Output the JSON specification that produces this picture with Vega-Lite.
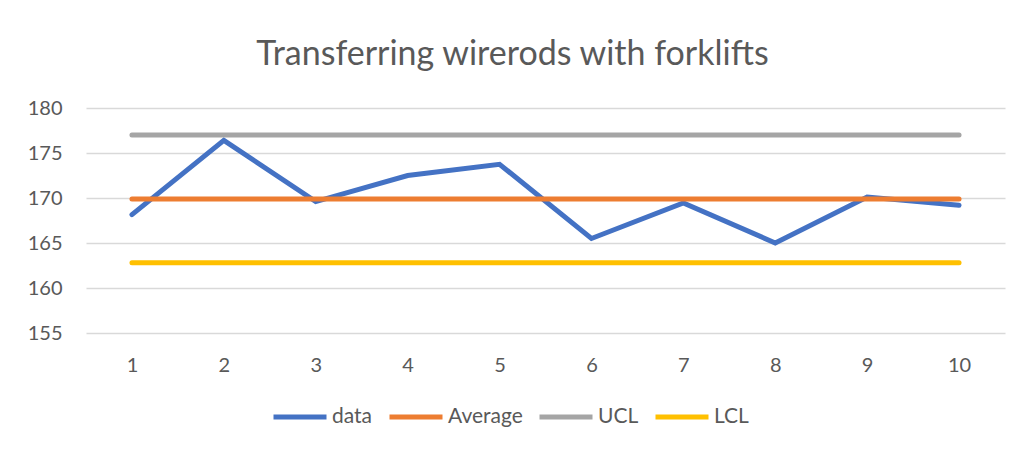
{
  "$schema": "https://vega.github.io/schema/vega-lite/v6.json",
  "width": 919,
  "height": 225,
  "autosize": {"type": "none"},
  "padding": {"left": 86, "top": 108, "right": 18, "bottom": 117},
  "background": "white",
  "title": {
    "text": "Transferring wirerods with forklifts",
    "font": "Lato",
    "fontSize": 34,
    "fontWeight": "normal",
    "color": "#595959",
    "anchor": "middle",
    "dx": -33,
    "offset": 26
  },
  "data": {
    "values": [
      {"x": 1, "series": "data", "value": 168.15},
      {"x": 2, "series": "data", "value": 176.4},
      {"x": 3, "series": "data", "value": 169.6},
      {"x": 4, "series": "data", "value": 172.5},
      {"x": 5, "series": "data", "value": 173.75},
      {"x": 6, "series": "data", "value": 165.5},
      {"x": 7, "series": "data", "value": 169.45},
      {"x": 8, "series": "data", "value": 165.0},
      {"x": 9, "series": "data", "value": 170.1},
      {"x": 10, "series": "data", "value": 169.2},
      {"x": 1, "series": "Average", "value": 169.9},
      {"x": 2, "series": "Average", "value": 169.9},
      {"x": 3, "series": "Average", "value": 169.9},
      {"x": 4, "series": "Average", "value": 169.9},
      {"x": 5, "series": "Average", "value": 169.9},
      {"x": 6, "series": "Average", "value": 169.9},
      {"x": 7, "series": "Average", "value": 169.9},
      {"x": 8, "series": "Average", "value": 169.9},
      {"x": 9, "series": "Average", "value": 169.9},
      {"x": 10, "series": "Average", "value": 169.9},
      {"x": 1, "series": "UCL", "value": 177.0},
      {"x": 2, "series": "UCL", "value": 177.0},
      {"x": 3, "series": "UCL", "value": 177.0},
      {"x": 4, "series": "UCL", "value": 177.0},
      {"x": 5, "series": "UCL", "value": 177.0},
      {"x": 6, "series": "UCL", "value": 177.0},
      {"x": 7, "series": "UCL", "value": 177.0},
      {"x": 8, "series": "UCL", "value": 177.0},
      {"x": 9, "series": "UCL", "value": 177.0},
      {"x": 10, "series": "UCL", "value": 177.0},
      {"x": 1, "series": "LCL", "value": 162.8},
      {"x": 2, "series": "LCL", "value": 162.8},
      {"x": 3, "series": "LCL", "value": 162.8},
      {"x": 4, "series": "LCL", "value": 162.8},
      {"x": 5, "series": "LCL", "value": 162.8},
      {"x": 6, "series": "LCL", "value": 162.8},
      {"x": 7, "series": "LCL", "value": 162.8},
      {"x": 8, "series": "LCL", "value": 162.8},
      {"x": 9, "series": "LCL", "value": 162.8},
      {"x": 10, "series": "LCL", "value": 162.8}
    ]
  },
  "mark": {"type": "line", "strokeWidth": 5, "strokeCap": "round", "strokeJoin": "miter"},
  "encoding": {
    "x": {
      "field": "x",
      "type": "ordinal",
      "scale": {"type": "point", "padding": 0.5},
      "axis": {
        "title": null,
        "labelAngle": 0,
        "domain": false,
        "ticks": false,
        "grid": false,
        "labelPadding": 22,
        "labelFont": "Lato",
        "labelFontSize": 20,
        "labelColor": "#595959"
      }
    },
    "y": {
      "field": "value",
      "type": "quantitative",
      "scale": {"domain": [155, 180], "zero": false, "nice": false},
      "axis": {
        "title": null,
        "values": [155, 160, 165, 170, 175, 180],
        "domain": false,
        "ticks": false,
        "grid": true,
        "gridColor": "#D9D9D9",
        "gridWidth": 1.3,
        "labelPadding": 24,
        "labelFont": "Lato",
        "labelFontSize": 20,
        "labelColor": "#595959"
      }
    },
    "color": {
      "field": "series",
      "type": "nominal",
      "scale": {
        "domain": ["data", "Average", "UCL", "LCL"],
        "range": ["#4472C4", "#ED7D31", "#A5A5A5", "#FFC000"]
      },
      "legend": {
        "title": null,
        "orient": "none",
        "direction": "horizontal",
        "legendX": 185,
        "legendY": 280,
        "symbolType": "stroke",
        "symbolSize": 2809,
        "symbolStrokeWidth": 5,
        "labelFont": "Lato",
        "labelFontSize": 21,
        "labelColor": "#595959",
        "labelOffset": 3,
        "columnPadding": 6
      }
    },
    "order": {"field": "x", "type": "quantitative"}
  },
  "config": {"view": {"stroke": null}}
}
